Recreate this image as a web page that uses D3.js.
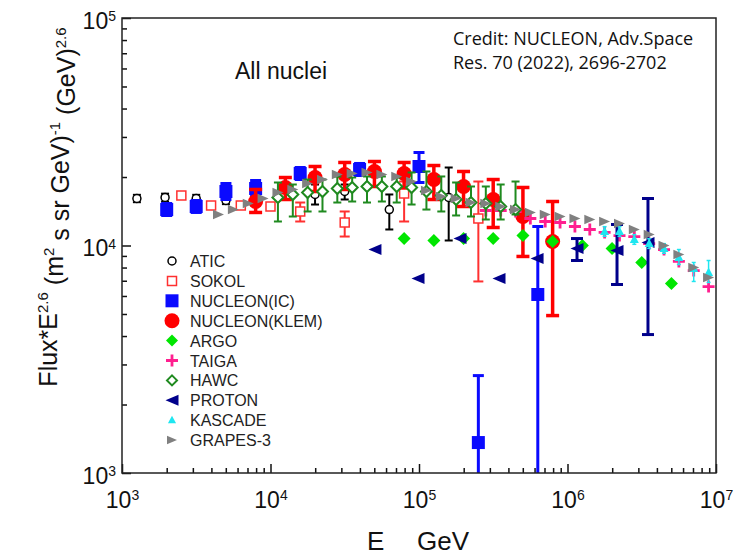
<!DOCTYPE html>
<html>
<head>
<meta charset="utf-8">
<script src="https://cdn.jsdelivr.net/npm/d3@7"></script>
<style>
  body { margin: 0; background: #fff; }
  svg { display: block; font-family: "Liberation Sans", Arial, sans-serif; }
</style>
</head>
<body>
<svg id="chart" width="735" height="555"></svg>
<script>
// values: E in GeV, flux*E^2.6
var aticE  = [1260, 1950, 3160, 5010, 19950, 31600, 63100, 158500];
var aticF  = [16090, 16260, 16090, 15770, 16760, 17270, 14390, 16260];
var aticHi = [16700, 16900, 16700, 16400, 18540, 18540, 16760, 22020];
var aticLo = [15500, 15600, 15500, 15200, 15140, 15930, 11760, 10520];

var sokolE  = [2510, 3980, 6310, 10000, 15850, 31600, 79400, 251000];
var sokolF  = [16590, 14990, 14990, 14840, 14110, 12620, 16930, 13140];
var sokolHi = [null, null, null, null, 15450, 14110, 19110, 19110];
var sokolLo = [null, null, null, null, 12750, 10950, 12750, 6950];

var icE  = [2000, 3160, 5010, 7940, 15850, 39800, 100000, 251000, 631000];
var icF  = [14390, 14840, 17270, 17810, 20730, 21590, 22250, 1361, 6090];
var icHi = [15300, 15770, 18730, 19310, 22020, 22940, 25630, 2680, 12120];
var icLo = [13550, 13970, 15930, 16420, 19500, 20310, 18920, 500, 500];

var klemE  = [7940, 12590, 19950, 31600, 50100, 79400, 125900, 199500, 316000, 501000, 794000];
var klemF  = [15610, 17990, 19900, 20520, 21150, 20730, 19500, 18170, 15930, 13410, 10410];
var klemHi = [17630, 19900, 22250, 23170, 23400, 23170, 22470, 21150, 19500, 17990, 15610];
var klemLo = [13970, 15930, 17270, 17630, 18170, 17990, 15930, 14840, 12000, 8950, 4920];

var argoE = [79400, 125900, 199500, 316000, 501000, 794000, 1259000, 1995000, 3162000, 5012000];
var argoF = [10730, 10520, 10730, 10730, 11060, 10410, 10000, 9700, 8420, 6810];

var taigaE = [282000, 355000, 447000, 562000, 708000, 891000, 1122000, 1413000, 1778000,
              2239000, 2818000, 3548000, 4467000, 5623000, 7079000, 8913000];
var taigaF = [14250, 14250, 14110, 13140, 12750, 12620, 12120, 11760, 11410,
              11060, 10950, 10200, 9600, 8510, 7760, 6600];

var hawcE  = [11220, 14130, 17780, 22390, 28180, 35480, 44670, 56230, 70790, 89130,
              112200, 141300, 177800, 223900, 281800, 354800, 446700];
var hawcF  = [16260, 16760, 17100, 17270, 17810, 17990, 18170, 18170, 18170, 17990,
              17270, 16590, 15930, 15450, 15300, 14840, 14390];
var hawcHi = [18920, 18540, 19500, 19500, 20110, 19900, 20110, 20110, 19900, 20940,
              21150, 20110, 18920, 18170, 18170, 18540, 19110];
var hawcLo = [12750, 13410, 14110, 14110, 15450, 15610, 15450, 15610, 15450, 15140,
              14390, 14110, 13550, 13410, 13010, 13010, 13690];

var protonE  = [50500, 98500, 188800, 345700, 624000, 1159000, 2155000, 3483000];
var protonF  = [9600, 7160, 10730, 7160, 8770, 9700, 9510, 10300];
var protonHi = [null, null, null, null, null, 10730, 12370, 16090];
var protonLo = [null, null, null, null, null, 8590, 6740, 4060];

var kascadeE  = [1778000, 2239000, 2818000, 3548000, 4467000, 5623000, 7079000, 8913000];
var kascadeF  = [11520, 11520, 10630, 10200, 9700, 8860, 7920, 7610];
var kascadeHi = [12100, 12100, 11160, 10710, 10190, 9600, 8420, 8590];
var kascadeLo = [10970, 10970, 10120, 9710, 9240, 8250, 6950, 6880];

var grapesE = [4467, 5623, 7079, 8913, 11220, 14130, 17780, 22390, 28180, 35480, 44670, 56230,
               70790, 89130, 112200, 141300, 177800, 223900, 281800, 354800, 446700, 562300,
               707900, 891300, 1122000, 1413000, 1778000, 2239000, 2818000, 3548000, 4467000,
               5623000, 7079000, 8913000];
var grapesF = [13690, 14390, 15300, 16090, 17100, 17630, 18730, 19500, 20520, 20730, 20940, 20520,
               20110, 19110, 17450, 16420, 16090, 15450, 15300, 14840, 14390, 13970,
               13690, 13410, 13140, 13010, 12750, 12490, 11760, 11180, 10000,
               9130, 8000, 7230];

var legendNames = ["ATIC", "SOKOL", "NUCLEON(IC)", "NUCLEON(KLEM)", "ARGO", "TAIGA",
                   "HAWC", "PROTON", "KASCADE", "GRAPES-3"];

var series = [
  {E: aticE, F: aticF, hi: aticHi, lo: aticLo, shape: "circle", r: 4, fill: "#fff", stroke: "#000", sw: 1.5, bar: "#000", bw: 2, cap: 8},
  {E: sokolE, F: sokolF, hi: sokolHi, lo: sokolLo, shape: "square", r: 4.5, fill: "#fff", stroke: "#ff3030", sw: 1.5, bar: "#ff3030", bw: 2, cap: 10},
  {E: icE, F: icF, hi: icHi, lo: icLo, shape: "square", r: 6.5, fill: "#0a0aff", stroke: "none", sw: 0, bar: "#0a0aff", bw: 3, cap: 11},
  {E: klemE, F: klemF, hi: klemHi, lo: klemLo, shape: "circle", r: 7.5, fill: "#ff0000", stroke: "none", sw: 0, bar: "#ff0000", bw: 3.5, cap: 13},
  {E: argoE, F: argoF, shape: "diamond", r: 6.5, fill: "#00e600", stroke: "none", sw: 0},
  {E: taigaE, F: taigaF, shape: "plus", r: 6, fill: "none", stroke: "#ff1f8f", sw: 2.8},
  {E: hawcE, F: hawcF, hi: hawcHi, lo: hawcLo, shape: "diamond", r: 5.5, fill: "#fff", stroke: "#1f8a1f", sw: 2, bar: "#1f8a1f", bw: 2, cap: 8},
  {E: protonE, F: protonF, hi: protonHi, lo: protonLo, shape: "left", r: 6.5, fill: "#00008b", stroke: "none", sw: 0, bar: "#00008b", bw: 3, cap: 12},
  {E: kascadeE, F: kascadeF, hi: kascadeHi, lo: kascadeLo, shape: "up", r: 5, fill: "#1ee6f0", stroke: "none", sw: 0, bar: "#1ee6f0", bw: 1.5, cap: 4},
  {E: grapesE, F: grapesF, shape: "right", r: 5.5, fill: "#808080", stroke: "none", sw: 0}
];

var svg = d3.select("#chart");
var x = d3.scaleLog().domain([1e3, 1e7]).range([122, 716]);
var y = d3.scaleLog().domain([1e3, 1e5]).range([473, 18]);

function shapePath(shape, r) {
  switch (shape) {
    case "circle": return d3.symbol(d3.symbolCircle, Math.PI * r * r)();
    case "square": return "M" + (-r) + "," + (-r) + "H" + r + "V" + r + "H" + (-r) + "Z";
    case "diamond": return "M0," + (-r) + "L" + r + ",0L0," + r + "L" + (-r) + ",0Z";
    case "left": return "M" + (-r) + ",0L" + r + "," + (-r * 0.85) + "L" + r + "," + (r * 0.85) + "Z";
    case "right": return "M" + r + ",0L" + (-r) + "," + (-r * 0.85) + "L" + (-r) + "," + (r * 0.85) + "Z";
    case "up": return "M0," + (-r) + "L" + (r * 0.9) + "," + (r * 0.7) + "L" + (-r * 0.9) + "," + (r * 0.7) + "Z";
    case "plus": return "M" + (-r) + ",0H" + r + "M0," + (-r) + "V" + r;
  }
}

// minor tick values 2..9 per decade
function minors(lo, hi) {
  var out = [];
  for (var p = lo; p < hi; p++)
    for (var m = 2; m <= 9; m++) out.push(m * Math.pow(10, p));
  return out;
}

function supLabels(g, supSize) {
  g.selectAll(".tick text").each(function(d) {
    var t = d3.select(this).text("");
    t.append("tspan").text("10");
    t.append("tspan").attr("dy", "-0.55em").attr("font-size", supSize).text(Math.round(Math.log10(d)));
  });
}

// axes (ticks pointing inward)
var xAxisMinor = svg.append("g").attr("transform", "translate(0,473)")
  .call(d3.axisBottom(x).tickValues(minors(3, 7)).tickSizeInner(-5).tickSizeOuter(0).tickFormat(""));
var xAxis = svg.append("g").attr("transform", "translate(0,473)")
  .call(d3.axisBottom(x).tickValues([1e3, 1e4, 1e5, 1e6, 1e7]).tickSizeInner(-9).tickSizeOuter(0).tickPadding(14));
xAxis.selectAll(".tick text").attr("font-size", 23).attr("fill", "#111").attr("dy", "0.9em");
xAxis.call(supLabels, 14);

var yAxisMinor = svg.append("g").attr("transform", "translate(122,0)")
  .call(d3.axisLeft(y).tickValues(minors(3, 5)).tickSizeInner(-5).tickSizeOuter(0).tickFormat(""));
var yAxis = svg.append("g").attr("transform", "translate(122,0)")
  .call(d3.axisLeft(y).tickValues([1e3, 1e4, 1e5]).tickSizeInner(-9).tickSizeOuter(0).tickPadding(6));
yAxis.selectAll(".tick text").attr("font-size", 23).attr("fill", "#111").attr("dy", "0.45em");
yAxis.call(supLabels, 14);

svg.selectAll(".domain").remove();
svg.selectAll(".tick line").attr("stroke", "#111").attr("stroke-width", 1.5);

svg.append("defs").append("clipPath").attr("id", "plotclip")
  .append("rect").attr("x", 122).attr("y", 18).attr("width", 594).attr("height", 455);

var plot = svg.append("g").attr("clip-path", "url(#plotclip)");

series.forEach(function(s) {
  var g = plot.append("g");
  var pts = s.E.map(function(e, i) {
    return {E: e, F: s.F[i], hi: s.hi ? s.hi[i] : null, lo: s.lo ? s.lo[i] : null};
  });
  var bars = pts.filter(function(d) { return d.hi != null; });
  if (bars.length) {
    var eb = g.selectAll(".eb").data(bars).enter().append("g")
      .attr("stroke", s.bar).attr("stroke-width", s.bw).attr("fill", "none");
    eb.append("line")
      .attr("x1", function(d) { return x(d.E); }).attr("x2", function(d) { return x(d.E); })
      .attr("y1", function(d) { return y(d.hi); }).attr("y2", function(d) { return y(d.lo); });
    eb.append("line")
      .attr("x1", function(d) { return x(d.E) - s.cap / 2; }).attr("x2", function(d) { return x(d.E) + s.cap / 2; })
      .attr("y1", function(d) { return y(d.hi); }).attr("y2", function(d) { return y(d.hi); });
    eb.append("line")
      .attr("x1", function(d) { return x(d.E) - s.cap / 2; }).attr("x2", function(d) { return x(d.E) + s.cap / 2; })
      .attr("y1", function(d) { return y(d.lo); }).attr("y2", function(d) { return y(d.lo); });
  }
  g.selectAll(".pt").data(pts).enter().append("path")
    .attr("transform", function(d) { return "translate(" + x(d.E) + "," + y(d.F) + ")"; })
    .attr("d", shapePath(s.shape, s.r))
    .attr("fill", s.fill).attr("stroke", s.stroke).attr("stroke-width", s.sw);
});

// frame
svg.append("rect").attr("x", 122).attr("y", 18).attr("width", 594).attr("height", 455)
  .attr("fill", "none").attr("stroke", "#222").attr("stroke-width", 1.5);

// legend
var legendR = [4, 4.5, 6.5, 7.5, 6, 6, 5, 6.5, 4.5, 5];
var leg = svg.append("g").selectAll("g").data(legendNames).enter().append("g")
  .attr("transform", function(d, i) { return "translate(172," + (261 + i * 19.9) + ")"; });
leg.append("path")
  .attr("d", function(d, i) { return shapePath(series[i].shape, legendR[i]); })
  .attr("fill", function(d, i) { return series[i].fill; })
  .attr("stroke", function(d, i) { return series[i].stroke; })
  .attr("stroke-width", function(d, i) { return series[i].sw; });
leg.append("text").attr("x", 18).attr("y", 6).attr("font-size", 16).attr("fill", "#222")
  .text(function(d) { return d; });

// texts
svg.append("text").attr("x", 235).attr("y", 79).attr("font-size", 23).attr("fill", "#111").text("All nuclei");

var credit = svg.append("g").attr("font-family", "'Open Sans', 'Noto Sans', sans-serif")
  .attr("font-size", 18).attr("fill", "#111");
credit.append("text").attr("x", 453).attr("y", 44.5).text("Credit: NUCLEON, Adv.Space");
credit.append("text").attr("x", 453).attr("y", 68.5).text("Res. 70 (2022), 2696-2702");

var xt = svg.append("text").attr("y", 550).attr("font-size", 26).attr("fill", "#111");
xt.append("tspan").attr("x", 367).text("E");
xt.append("tspan").attr("x", 417).text("GeV");

var yt = svg.append("text").attr("transform", "translate(57,207) rotate(-90)")
  .attr("text-anchor", "middle").attr("font-size", 25).attr("fill", "#111");
yt.append("tspan").text("Flux*E");
yt.append("tspan").attr("dy", "-0.6em").attr("font-size", 15).text("2.6");
yt.append("tspan").attr("dy", "0.6em").text(" (m");
yt.append("tspan").attr("dy", "-0.6em").attr("font-size", 15).text("2");
yt.append("tspan").attr("dy", "0.6em").text(" s sr GeV)");
yt.append("tspan").attr("dy", "-0.6em").attr("font-size", 15).text("-1");
yt.append("tspan").attr("dy", "0.6em").text(" (GeV)");
yt.append("tspan").attr("dy", "-0.6em").attr("font-size", 15).text("2.6");
</script>
</body>
</html>
